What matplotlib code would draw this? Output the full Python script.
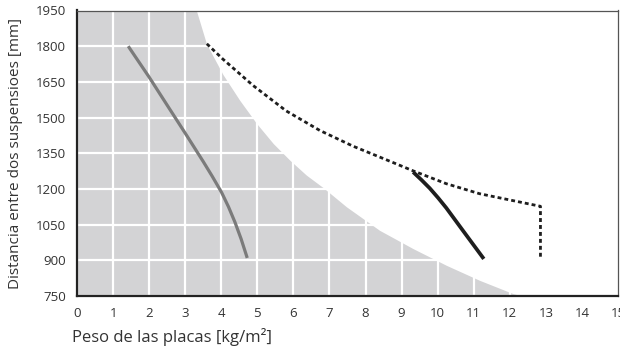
import matplotlib
matplotlib.use('Agg')
import matplotlib.pyplot as plt

plt.rcParams['font.family'] = ['Open Sans', 'DejaVu Sans']

# shaded region boundary (weight, distance)
bound_x = [0, 3.31, 3.59, 4.05, 4.51, 4.98, 5.44, 5.9, 6.36, 6.83, 7.47, 8.39, 9.32, 10.24, 11.16, 12.09, 12.35]
bound_y = [1950, 1950, 1810, 1680, 1573, 1475, 1391, 1321, 1258, 1205, 1125, 1026, 949, 879, 816, 760, 750]

gray_x = [1.42, 2.0, 2.5, 3.01, 3.5, 3.75, 4.01, 4.2, 4.38, 4.55, 4.72]
gray_y = [1800, 1670, 1552, 1432, 1315, 1253, 1185, 1125, 1060, 990, 910]

dot_x = [3.6, 4.05, 4.88, 5.8, 6.73, 7.65, 8.57, 9.32, 10.24, 11.16, 12.85, 12.85]
dot_y = [1810, 1745, 1635, 1528, 1446, 1380, 1323, 1276, 1222, 1180, 1127, 912]

black_x = [9.32, 9.55, 9.78, 10.01, 10.24, 10.7, 11.28]
black_y = [1271, 1238, 1203, 1163, 1120, 1025, 906]

x_ticks = list(range(0, 16))
y_ticks = [750, 900, 1050, 1200, 1350, 1500, 1650, 1800, 1950]

fig = plt.figure(figsize=(6.2, 3.49), dpi=100)
ax = fig.add_axes([77 / 620, 1 - 296 / 349, 541 / 620, 285.5 / 349])

ax.fill_betweenx(bound_y, 0, bound_x, color='#d3d3d5', lw=0, zorder=1)
ax.set_axisbelow('line')
ax.grid(True, color='white', lw=1.6)

ax.plot(gray_x, gray_y, color='#7b7b7b', lw=2.3, zorder=3, solid_capstyle='butt')
ax.plot(black_x, black_y, color='#1e1e1e', lw=2.7, zorder=3, solid_capstyle='butt')
ax.plot(dot_x, dot_y, color='#1e1e1e', lw=2.0, ls=(0, (1.4, 1.1)), zorder=3)

ax.set_xlim(0, 15)
ax.set_ylim(750, 1950)
ax.set_xticks(x_ticks)
ax.set_yticks(y_ticks)
ax.tick_params(length=0, labelsize=9.5, colors='#333333', pad=8)

for s in ['left', 'bottom']:
    ax.spines[s].set_linewidth(1.6)
    ax.spines[s].set_color('#222222')
for s in ['top', 'right']:
    ax.spines[s].set_linewidth(0.9)
    ax.spines[s].set_color('#555555')

ax.set_ylabel('Distancia entre dos suspensioes [mm]', fontsize=11, color='#333333', labelpad=9)
ax.set_xlabel('Peso de las placas [kg/m²]', fontsize=12, color='#333333', loc='left', labelpad=6)
ax.xaxis.label.set_x(-0.01)

fig.savefig('out.png', dpi=100)
